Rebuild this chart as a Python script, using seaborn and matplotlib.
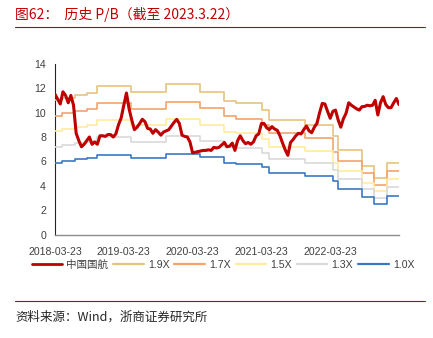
import numpy as np
import pandas as pd
import matplotlib
matplotlib.use('Agg')
import matplotlib.pyplot as plt
import matplotlib.dates as mdates
from matplotlib.lines import Line2D
import seaborn as sns

sns.set_theme(style='white')
plt.rcParams['font.family'] = ['Liberation Sans', 'Noto Sans CJK SC', 'DejaVu Sans']

# ---- data ----
price = [11.5, 11.1, 10.7, 11.7, 11.4, 10.8, 11.4, 10.6, 8.3, 7.7,
         7.2, 7.4, 7.7, 8.0, 7.4, 7.6, 7.4, 8.1, 8.1, 8.05,
         8.2, 8.2, 8.0, 8.25, 9.0, 9.55, 10.6, 11.6, 10.3, 9.4,
         8.6, 8.8, 9.1, 9.45, 9.25, 8.7, 8.65, 8.3, 8.6, 8.4,
         8.15, 8.4, 8.5, 8.6, 8.9, 9.2, 9.44, 9.1, 8.15, 8.05,
         8.0, 7.6, 6.7, 6.75, 6.8, 6.85, 6.9, 6.9, 6.95, 6.9,
         7.15, 7.1, 7.15, 7.35, 7.55, 7.2, 7.25, 7.5, 6.9, 7.7,
         8.1, 7.7, 7.45, 7.55, 7.4, 7.6, 8.1, 8.25, 9.1, 9.1,
         8.75, 8.6, 8.85, 8.65, 8.55, 8.1, 7.5, 6.94, 6.5, 7.55,
         7.8, 8.1, 8.3, 8.25, 8.6, 8.9, 8.5, 8.35, 8.8, 9.12,
         10.0, 10.75, 10.7, 10.1, 9.53, 10.1, 10.2, 9.4, 8.8, 9.5,
         9.95, 10.8, 10.6, 10.45, 10.3, 10.2, 10.48, 10.5, 10.6, 10.55,
         10.6, 11.0, 9.8, 10.8, 11.3, 10.65, 10.4, 10.4, 10.8, 11.15,
         10.65]
price_start = '2018-03-23'
price_end = '2023-03-22'

step_dates = ['2018-03-23', '2018-04-28', '2018-07-07', '2018-09-07', '2018-10-30',
              '2019-04-29', '2019-11-01', '2020-05-01', '2020-09-05', '2020-11-08',
              '2021-03-23', '2021-05-01', '2021-11-08', '2022-04-05', '2022-04-30',
              '2022-09-06', '2022-11-07', '2023-01-18']
band_19 = [11.03, 11.2, 11.42, 11.6, 12.17, 11.68, 12.31, 11.7, 10.92, 10.75,
           10.22, 9.41, 8.96, 8.08, 6.93, 5.65, 4.62, 5.9]
band_17 = [9.68, 9.95, 10.12, 10.28, 10.75, 10.25, 10.89, 10.36, 9.68, 9.5,
           9.0, 8.35, 7.95, 6.8, 6.06, 5.03, 4.1, 5.24]
band_15 = [8.46, 8.65, 8.85, 8.95, 9.35, 8.95, 9.46, 9.0, 8.43, 8.3,
           7.8, 7.22, 6.88, 5.85, 5.24, 4.2, 3.56, 4.53]
band_13 = [7.2, 7.38, 7.53, 7.62, 7.98, 7.6, 8.08, 7.7, 7.2, 7.07,
           6.65, 6.18, 5.87, 5.3, 4.53, 3.71, 3.03, 3.88]
band_10 = [5.9, 6.03, 6.17, 6.28, 6.55, 6.28, 6.63, 6.33, 5.9, 5.79,
           5.51, 5.08, 4.83, 4.37, 3.71, 3.05, 2.5, 3.17]

series_names = ['中国国航', '1.9X', '1.7X', '1.5X', '1.3X', '1.0X']
colors = ['#C00000', '#E6C47E', '#F4A36B', '#FFEB9C', '#D9D9D9', '#3A78C3']
tick_dates = ['2018-03-23', '2019-03-23', '2020-03-23', '2021-03-23', '2022-03-23']
y_ticks = [0, 2, 4, 6, 8, 10, 12, 14]

# ---- figure ----
fig = plt.figure(figsize=(4.33, 3.38), dpi=100)
ax = fig.add_axes([0.127, 0.3056, 0.7945, 0.506])

pdates = pd.date_range(price_start, price_end, periods=len(price))
sdates = pd.to_datetime(step_dates + [price_end])

sns.lineplot(x=pdates, y=price, ax=ax, color=colors[0], lw=2.2,
             label=series_names[0], zorder=5)
for name, vals, c in zip(series_names[1:], [band_19, band_17, band_15, band_13, band_10], colors[1:]):
    sns.lineplot(x=sdates, y=vals + [vals[-1]], ax=ax, color=c, lw=1.2,
                 drawstyle='steps-post', label=name, zorder=3)

ax.set_xlim(pd.Timestamp(price_start), pd.Timestamp(price_end))
ax.set_ylim(0, 14)
ax.set_yticks(y_ticks)
ax.set_xticks(pd.to_datetime(tick_dates))
ax.xaxis.set_major_formatter(mdates.DateFormatter('%Y-%m-%d'))
ax.set_xlabel('')
ax.set_ylabel('')

for s in ['top', 'right']:
    ax.spines[s].set_visible(False)
ax.spines['left'].set_color('#262626')
ax.spines['left'].set_linewidth(0.8)
ax.spines['bottom'].set_color('#8C8C8C')
ax.spines['bottom'].set_linewidth(1.0)
ax.tick_params(axis='both', labelsize=7.6, labelcolor='#404040', direction='out',
               length=3.5, width=0.8, pad=3)
ax.tick_params(axis='y', colors='#262626', labelcolor='#404040')
ax.tick_params(axis='x', colors='#8C8C8C', labelcolor='#404040', pad=5)

leg = ax.legend(loc='center', bbox_to_anchor=(223 / 433, 1 - 265 / 338),
                bbox_transform=fig.transFigure, ncol=6, frameon=False,
                handlelength=2.9, handletextpad=0.4, columnspacing=0.45,
                fontsize=7.6, borderaxespad=0)
for t in leg.get_texts():
    t.set_color('#404040')
for h in leg.get_lines():
    h.set_linewidth(2.0 if h.get_color() == colors[0] else 1.6)

cjk = ['Noto Sans CJK SC', 'DejaVu Sans']
fig.text(15 / 433, 1 - 14 / 338, '图62：  历史 P/B（截至 2023.3.22）', color='#C00000',
         fontsize=10, va='center', ha='left', family=cjk)
fig.add_artist(Line2D([15 / 433, 425 / 433], [1 - 27 / 338] * 2, color='#C00000', lw=0.8))
fig.add_artist(Line2D([15 / 433, 425 / 433], [1 - 301 / 338] * 2, color='#C00000', lw=0.8))
fig.text(15 / 433, 1 - 317 / 338, '资料来源：Wind，浙商证券研究所', color='#262626',
         fontsize=9, va='center', ha='left', family=cjk)

fig.savefig('out.png', dpi=100)
